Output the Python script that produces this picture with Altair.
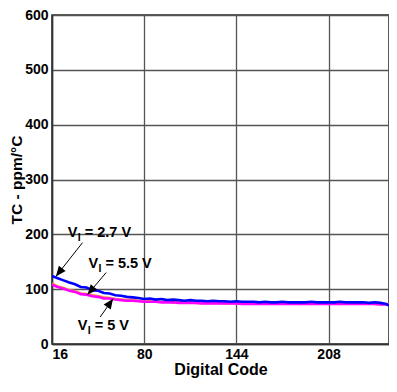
import altair as alt
import pandas as pd
import numpy as np

codes = list(range(16, 252, 4)) + [250]
codes = [c for c in codes if c <= 250]

tc_27 = [124, 120, 116, 112, 109, 104, 103, 98, 97, 93, 92, 89, 88, 86, 85, 84, 82, 83, 81, 82,
         80, 81, 80, 79, 80, 79, 79, 78, 79, 78, 78, 77, 78, 77, 77, 77, 76, 77, 76, 76,
         77, 76, 76, 76, 76, 77, 76, 76, 76, 76, 77, 76, 76, 76, 76, 75, 76, 75, 73, 70]
tc_5 = [108, 104, 101, 97, 95, 91, 90, 87, 86, 83, 83, 81, 80, 79, 79, 78, 77, 77, 77, 76,
        76, 76, 75, 75, 75, 75, 74, 74, 74, 74, 74, 74, 74, 73, 73, 73, 73, 73, 73, 73,
        73, 73, 73, 73, 73, 73, 73, 73, 73, 73, 73, 73, 73, 73, 73, 73, 73, 72, 72, 71]
tc_55 = [110, 105, 102, 98, 96, 92, 91, 89, 87, 85, 84, 82, 81, 80, 80, 79, 78, 78, 77, 77,
         77, 76, 76, 76, 76, 75, 75, 75, 75, 75, 74, 75, 74, 74, 74, 74, 74, 74, 74, 74,
         74, 74, 74, 73, 74, 73, 74, 74, 74, 74, 73, 74, 74, 74, 74, 74, 73, 73, 73, 72]

series_names = ["VI = 5.5 V", "VI = 5 V", "VI = 2.7 V"]
series_colors = ["#FF9933", "#FF00FF", "#0000FF"]

x_ticks = [16, 80, 144, 208]
y_ticks = [0, 100, 200, 300, 400, 500, 600]

# annotation labels (anchor of the "V", baseline)
ann_x = [26.9, 41.3, 33.8]
ann_y = [195.4, 139.1, 26.4]
ann_rest = ["= 2.7 V", "= 5.5 V", "= 5 V"]

# arrows: tail -> tip
arr_x = [37.2, 53.6, 49.5]
arr_y = [184.9, 130.3, 49.3]
arr_x2 = [18.7, 40.6, 58.4]
arr_y2 = [123.2, 89.8, 82.7]

W, H = 337, 329
XMIN, XMAX = 16, 250
YMIN, YMAX = 0, 600

rows = []
for name, vals in zip(series_names, [tc_55, tc_5, tc_27]):
    for c, v in zip(codes, vals):
        rows.append({"code": c, "tc": v, "series": name})
df = pd.DataFrame(rows)

sx = W / (XMAX - XMIN)
sy = H / (YMAX - YMIN)
angles = []
for a, b, a2, b2 in zip(arr_x, arr_y, arr_x2, arr_y2):
    dxp = (a2 - a) * sx
    dyp = -(b2 - b) * sy
    ang = np.degrees(np.arctan2(dxp, -dyp)) % 360
    angles.append(float(ang))

arrows = pd.DataFrame({"x": arr_x, "y": arr_y, "x2": arr_x2, "y2": arr_y2, "ang": angles})
ann = pd.DataFrame({"x": ann_x, "y": ann_y, "rest": ann_rest})

xs = alt.Scale(domain=[XMIN, XMAX], nice=False, zero=False)
ys = alt.Scale(domain=[YMIN, YMAX], nice=False)

font = "Liberation Sans"

lines = alt.Chart(df).mark_line(strokeWidth=2.6, clip=True).encode(
    x=alt.X("code:Q", scale=xs,
            axis=alt.Axis(values=x_ticks, title="Digital Code", labelFontSize=14,
                          labelFontWeight="bold", titleFontSize=16, titleFontWeight="bold",
                          ticks=False, labelPadding=3, titleBaseline="alphabetic",
                          titleY=30, titleX=W / 2, domainColor="#333333", domainWidth=1.5,
                          gridColor="#555555", gridWidth=1.3, gridOpacity=1,
                          labelColor="black", titleColor="black", labelFont=font, titleFont=font)),
    y=alt.Y("tc:Q", scale=ys,
            axis=alt.Axis(values=y_ticks, title="TC - ppm/°C", labelFontSize=14,
                          labelFontWeight="bold", titleFontSize=15.5, titleFontWeight="bold",
                          ticks=False, labelPadding=4, titleBaseline="alphabetic",
                          titleX=-31, titleY=H / 2, titleAngle=-90,
                          domainColor="#333333", domainWidth=1.5,
                          gridColor="#555555", gridWidth=1.3, gridOpacity=1,
                          labelColor="black", titleColor="black", labelFont=font, titleFont=font)),
    color=alt.Color("series:N", scale=alt.Scale(domain=series_names, range=series_colors), legend=None),
    order=alt.Order("order:Q"),
).transform_calculate(
    order="indexof(['" + "','".join(series_names) + "'], datum.series)"
)

rules = alt.Chart(arrows).mark_rule(color="black", strokeWidth=1).encode(
    x=alt.X("x:Q", scale=xs), y=alt.Y("y:Q", scale=ys),
    x2="x2:Q", y2="y2:Q")

heads = alt.Chart(arrows).mark_point(
    shape="M0,0L-0.42,1L0.42,1Z", filled=True, color="black", opacity=1, size=420
).encode(
    x=alt.X("x2:Q", scale=xs), y=alt.Y("y2:Q", scale=ys),
    angle=alt.Angle("ang:Q", scale=None))

t_v = alt.Chart(ann).mark_text(text="V", align="left", baseline="alphabetic", fontSize=14.5,
                               fontWeight="bold", font=font, color="black").encode(
    x=alt.X("x:Q", scale=xs), y=alt.Y("y:Q", scale=ys))
t_i = alt.Chart(ann).mark_text(text="I", align="left", baseline="alphabetic", fontSize=10.5,
                               fontWeight="bold", font=font, color="black", dx=10, dy=4).encode(
    x=alt.X("x:Q", scale=xs), y=alt.Y("y:Q", scale=ys))
t_r = alt.Chart(ann).mark_text(align="left", baseline="alphabetic", fontSize=14.5,
                               fontWeight="bold", font=font, color="black", dx=17).encode(
    x=alt.X("x:Q", scale=xs), y=alt.Y("y:Q", scale=ys), text="rest:N")

chart = alt.layer(lines, rules, heads, t_v, t_i, t_r).properties(
    width=W, height=H,
    autosize=alt.AutoSizeParams(type="none"),
    padding={"left": 44, "top": 7, "right": 0, "bottom": 34},
    background="white",
).configure_view(stroke="#222222", strokeWidth=1.5)

chart.save("out.html", embed_options={"renderer": "svg", "actions": False})
